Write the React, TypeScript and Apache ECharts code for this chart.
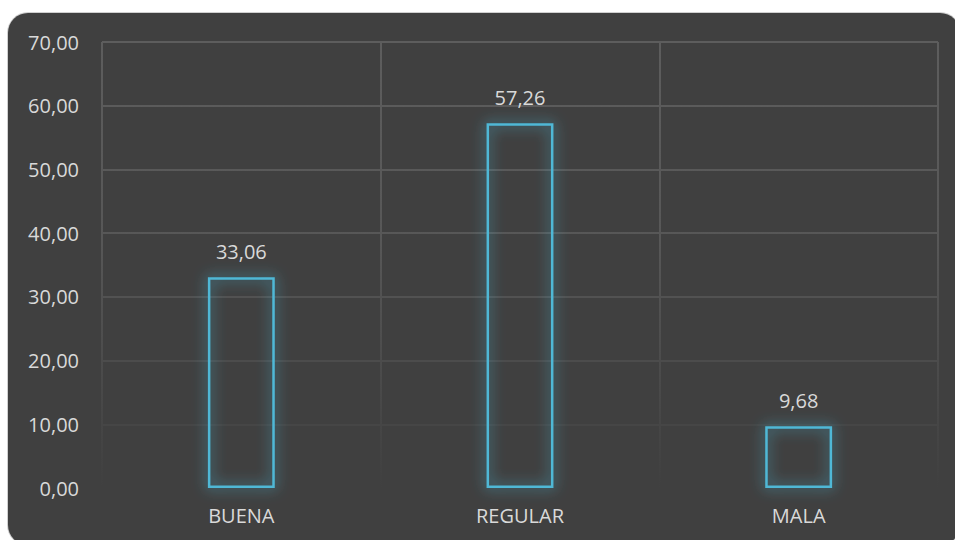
import React, { useEffect, useRef } from "react";
import * as echarts from "echarts";

const categories = ["BUENA", "REGULAR", "MALA"];
const values = [33.06, 57.26, 9.68];
const yMin = 0;
const yMax = 70;
const yInterval = 10;

const fmt = (v: number) => v.toFixed(2).replace(".", ",");

export default function App() {
  const ref = useRef<HTMLDivElement>(null);
  useEffect(() => {
    if (!ref.current) return;
    const chart = echarts.init(ref.current, undefined, { renderer: "svg" });
    const gridGrad = new echarts.graphic.LinearGradient(
      0, 29, 0, 475,
      [
        { offset: 0, color: "#5d5d5d" },
        { offset: 0.45, color: "#575757" },
        { offset: 1, color: "#404040" },
      ],
      true
    );
    chart.setOption({
      animation: false,
      backgroundColor: "transparent",
      grid: { left: 94, top: 29, right: 22, bottom: 57, containLabel: false },
      xAxis: {
        type: "category",
        data: categories,
        boundaryGap: true,
        axisLine: { show: false },
        axisTick: { show: false },
        splitLine: { show: true, lineStyle: { color: gridGrad, width: 2 } },
        axisLabel: {
          color: "#d9d9d9",
          fontSize: 20,
          fontFamily: "Open Sans",
          margin: 17,
        },
      },
      yAxis: {
        type: "value",
        min: yMin,
        max: yMax,
        interval: yInterval,
        axisLine: { show: false },
        axisTick: { show: false },
        splitLine: { show: true, lineStyle: { color: gridGrad, width: 2 } },
        axisLabel: {
          color: "#d9d9d9",
          fontSize: 20,
          fontFamily: "Open Sans",
          margin: 23,
          formatter: (v: number) => fmt(v),
        },
      },
      series: [
        {
          type: "bar",
          data: values,
          barWidth: "24%",
          itemStyle: {
            color: "rgba(64,64,64,0)",
            borderColor: "#4fb8d6",
            borderWidth: 2.5,
            shadowBlur: 14,
            shadowColor: "rgba(70,185,220,1)",
          },
          label: {
            show: true,
            position: "top",
            distance: 16,
            color: "#d9d9d9",
            fontSize: 20,
            fontFamily: "Open Sans",
            formatter: (p: any) => fmt(p.value),
          },
        },
      ],
    });
    return () => chart.dispose();
  }, []);
  return (
    <div
      style={{
        position: "fixed",
        left: 0,
        top: 0,
        width: 955,
        height: 540,
        overflow: "hidden",
        background: "#ffffff",
      }}
    >
      <div
        ref={ref}
        style={{
          position: "absolute",
          left: 8,
          top: 13,
          width: 952,
          height: 532,
          background: "#404040",
          borderRadius: 20,
          boxShadow: "0 0 0 1px #d0d0d0",
        }}
      />
    </div>
  );
}
